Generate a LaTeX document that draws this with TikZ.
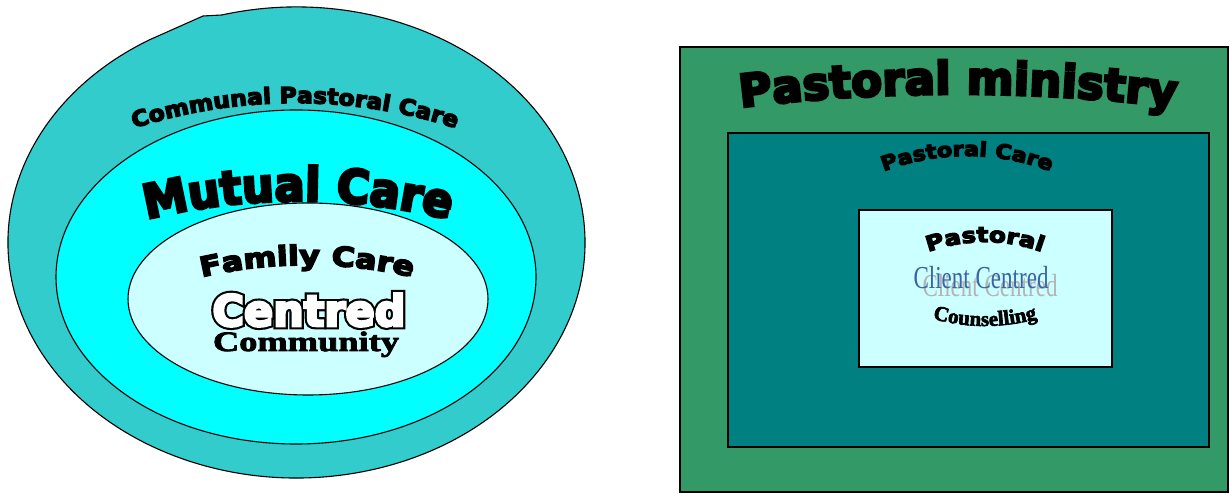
\documentclass[tikz,border=0pt]{standalone}
\usepackage{fontspec}
\usetikzlibrary{decorations.text}
\newfontfamily\heavyfont{DejaVu Sans Bold}[FakeBold=6]
\newfontfamily\rimfont{DejaVu Sans Bold}[FakeBold=16]
\newfontfamily\serifheavy{Liberation Serif Bold}[FakeBold=3]
\newfontfamily\narrowserif{Liberation Serif}[FakeStretch=0.72]
\definecolor{ringout}{RGB}{51,204,204}
\definecolor{ringmid}{RGB}{0,255,255}
\definecolor{paleaqua}{RGB}{204,255,255}
\definecolor{seagreen}{RGB}{51,153,102}
\definecolor{tealbox}{RGB}{0,128,128}
\definecolor{clientblue}{RGB}{60,100,165}
\definecolor{clientgrey}{RGB}{180,180,180}
\begin{document}
\begin{tikzpicture}[x=1pt, y=1pt,
    area/.style={draw=black, line width=1.1pt},
    flat/.style={inner sep=0pt, anchor=base}]
    \useasboundingbox (0,0) rectangle (1230,494);
    % arched word art: centre x, centre y, radius, half angle, font, text
    \def\archtext#1#2#3#4#5#6{%
        \path[decorate, decoration={text along path, text align=center, text={|#5|#6}}]
            ([shift={(90+#4:#3)}]#1,#2) arc[start angle=90+#4, end angle=90-#4, radius=#3];}
    \def\wa#1#2{\fontsize{#1}{#1}\heavyfont\addfontfeatures{FakeStretch=#2}}

    % Left: nested rings
    \draw[area, fill=ringout] (150,454.4) -- (203,478) -- (221.8,479)
        arc[start angle=105, end angle=-239.5, x radius=288.5, y radius=235.5] -- cycle;
    \draw[area, fill=ringmid] (296,217) ellipse[x radius=240, y radius=167];
    \draw[area, fill=paleaqua] (308,195) ellipse[x radius=180, y radius=96];

    % Right: nested boxes
    \draw[area, fill=seagreen] (680,2) rectangle (1228,447);
    \draw[area, fill=tealbox] (728,47) rectangle (1209,361);
    \draw[area, fill=paleaqua] (859,127) rectangle (1112,284);

    % Arched titles
    \archtext{295}{-134.5}{525.5}{21}{\wa{22}{1.07}}{Communal Pastoral Care}
    \archtext{298}{-341}{634}{16.5}{\wa{47}{0.95}}{Mutual Care}
    \archtext{307}{-236.4}{465.4}{16.2}{\wa{27}{1.18}}{Family Care}
    \archtext{958}{-1384}{1784}{7.9}{\wa{45}{1.0}}{Pastoral ministry}
    \archtext{967}{104.2}{233.8}{28}{\wa{20}{1.12}}{Pastoral Care}
    \archtext{985}{85.5}{166.5}{26.8}{\wa{21}{1.18}}{Pastoral}

    % Outlined "Centred"
    \node[flat, font={\fontsize{43}{43}\rimfont}, text=black] (centredrim) at (309,168) {Centred};
    \node[flat, font={\fontsize{43}{43}\heavyfont}, text=white] (centred) at (309,168) {Centred};
    \node[flat, font={\fontsize{28}{28}\serifheavy\addfontfeatures{FakeStretch=1.3}}] (community) at (306,143) {Community};

    % Client centred with its shadow
    \node[flat, font={\fontsize{32}{32}\narrowserif}, text=clientgrey] (clientshadow) at (990,197) {Client Centred};
    \node[flat, font={\fontsize{32}{32}\narrowserif}, text=clientblue] (client) at (981,205) {Client Centred};
    \path[decorate, decoration={text along path, text align=center, text={|\fontsize{21}{21}\serifheavy|Counselling}}]
        ([shift={(247:193)}]985,361) arc[start angle=247, end angle=293, radius=193];
\end{tikzpicture}
\end{document}
